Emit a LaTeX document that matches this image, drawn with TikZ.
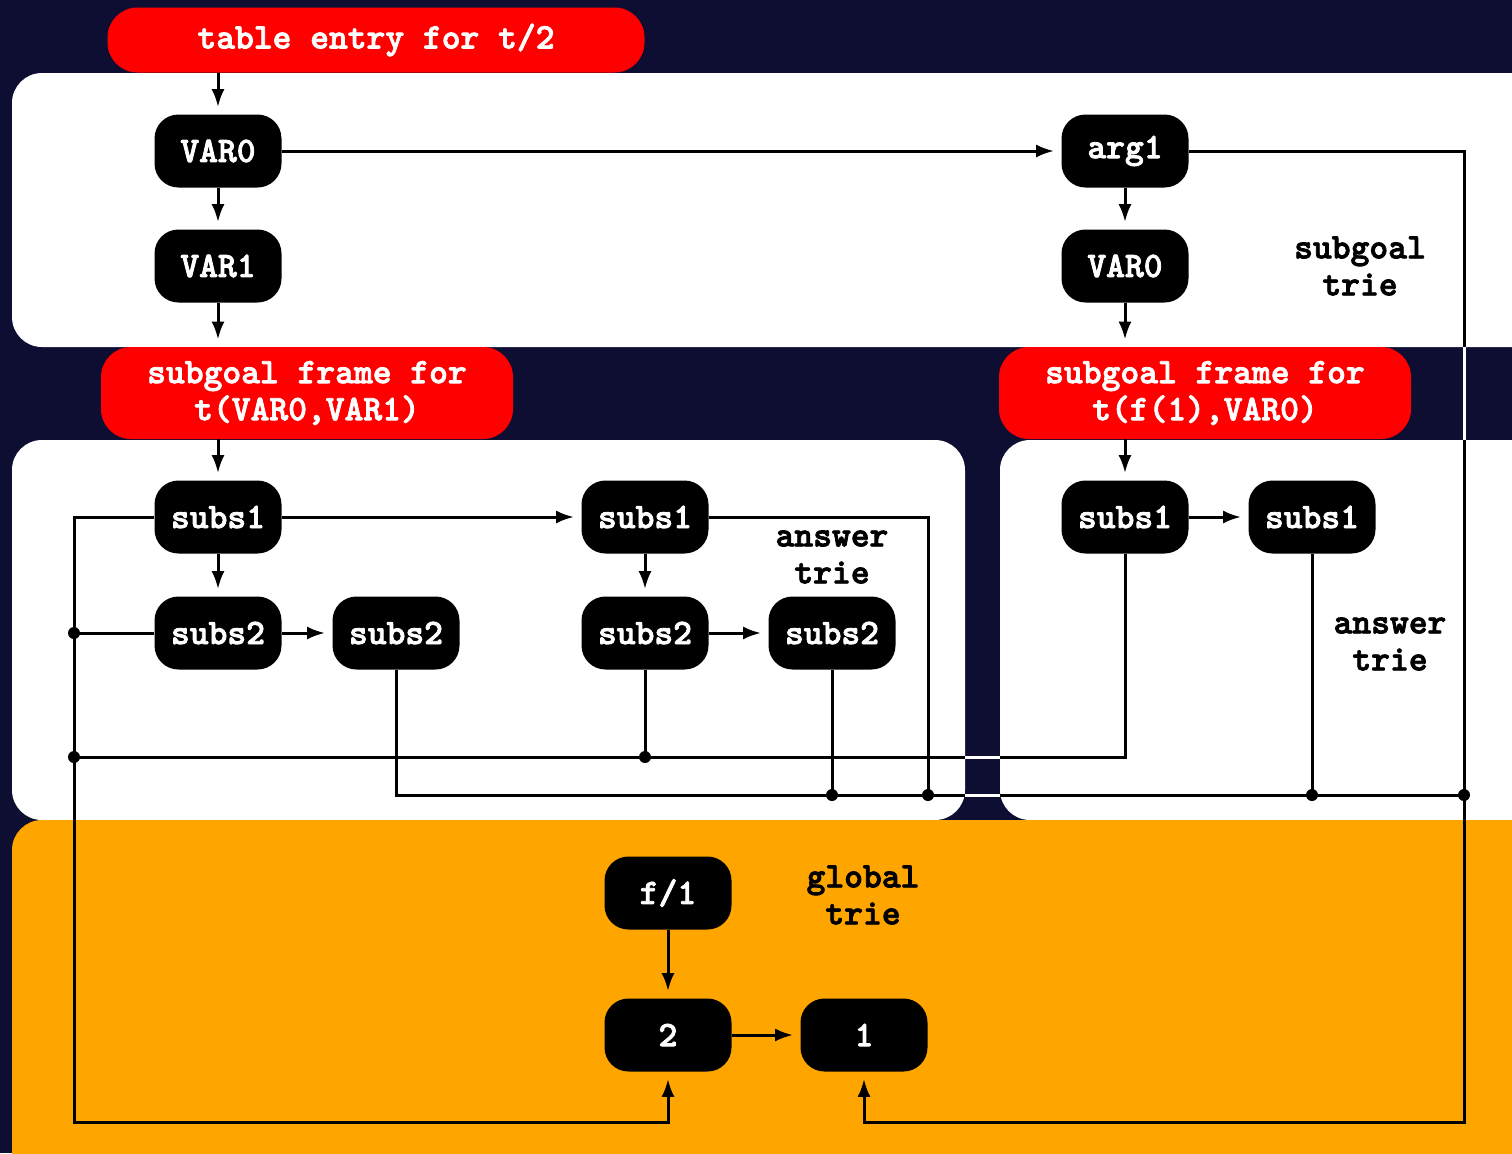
\documentclass[tikz,border=0pt]{standalone}
\usepackage{fontspec}
\newfontfamily\triefont{lmmonolt10-bold.otf}[RawFeature={embolden=2.2}]
\usepackage{tikz}
\usetikzlibrary{calc,positioning,arrows.meta}
\definecolor{Night}{HTML}{0E0E33}
\definecolor{Frame}{HTML}{FF0000}
\definecolor{Amber}{HTML}{FFA500}

\tikzset{
  trienode/.style={fill=black,text=white,rounded corners=12pt,minimum width=63.5pt,minimum height=36.5pt,inner sep=0pt,font=\triefont\fontsize{17.9}{18.5}\selectfont},
  framebox/.style={fill=Frame,text=white,rounded corners=15pt,inner sep=0pt,align=center,font=\triefont\fontsize{17.9}{18.5}\selectfont},
  trielabel/.style={text=black,align=center,inner sep=0pt,font=\triefont\fontsize{17.9}{18.5}\selectfont},
  wire/.style={draw=black,line width=1.5pt},
  link/.style={wire,-{Latex[length=9pt,width=6.5pt]},shorten >=3.5pt},
  joint/.style={fill=black,circle,inner sep=0pt,minimum size=6pt},
  bridge/.style={draw=white,line width=1.5pt}
}

\begin{document}
\begin{tikzpicture}[x=0.5pt,y=-0.5pt]
\clip (0,0) rectangle (1512,1153);
\fill[Night] (0,0) rectangle (1512,1153);
% panels
\fill[white,rounded corners=15pt] (12,73) rectangle (1560,347);
\fill[white,rounded corners=15pt] (12,440) rectangle (965,820);
\fill[white,rounded corners=15pt] (1000,440) rectangle (1560,820);
\fill[Amber,rounded corners=15pt] (12,820) rectangle (1560,1200);

% frames
\node[framebox,minimum width=268.5pt,minimum height=32.5pt] (entry) at (376,40) {table entry for t/2};
\node[framebox,minimum width=206pt,minimum height=46pt] (frameL) at (307,393) {subgoal frame for\\t(VAR0,VAR1)};
\node[framebox,minimum width=206pt,minimum height=46pt] (frameR) at (1205,393) {subgoal frame for\\t(f(1),VAR0)};

% subgoal trie
\node[trienode] (varA) at (218,151) {VAR0};
\node[trienode] (varB) at (218,266) {VAR1};
\node[trienode] (arg) at (1125,151) {arg1};
\node[trienode] (varC) at (1125,266) {VAR0};
\node[trielabel] (sglabel) at (1360,266) {subgoal\\trie};

% answer tries
\node[trienode] (subsA) at (218,517) {subs1};
\node[trienode] (subsB) at (218,633) {subs2};
\node[trienode] (subsC) at (396,633) {subs2};
\node[trienode] (subsD) at (645,517) {subs1};
\node[trienode] (subsE) at (645,633) {subs2};
\node[trienode] (subsF) at (832,633) {subs2};
\node[trielabel] (anslabelL) at (832,557) {answer\\trie};
\node[trienode] (subsG) at (1125,517) {subs1};
\node[trienode] (subsH) at (1312,517) {subs1};
\node[trielabel] (anslabelR) at (1390,644) {answer\\trie};

% global trie
\node[trienode] (fone) at (668,893) {f/1};
\node[trienode] (two) at (668,1035) {2};
\node[trienode] (one) at (864,1035) {1};
\node[trielabel] (glabel) at (863,895) {global\\trie};

\coordinate (busL) at (74,1122);
\coordinate (busR) at (1464,1122);
\coordinate (midbus) at (74,757);
\coordinate (lowbus) at (1464,795);
\coordinate (drop) at (928,795);

% arrows
\draw[link] (entry.south -| varA.north) -- (varA.north);
\draw[link] (varA) -- (varB);
\draw[link] (varA) -- (arg);
\draw[link] (arg) -- (varC);
\draw[link] (varB.south) -- (varB.south |- frameL.north);
\draw[link] (varC.south) -- (varC.south |- frameR.north);
\draw[link] (frameL.south -| subsA.north) -- (subsA.north);
\draw[link] (frameR.south -| subsG.north) -- (subsG.north);
\draw[link] (subsA) -- (subsB);
\draw[link] (subsA) -- (subsD);
\draw[link] (subsB) -- (subsC);
\draw[link] (subsD) -- (subsE);
\draw[link] (subsE) -- (subsF);
\draw[link] (subsG) -- (subsH);
\draw[link] (fone) -- (two);
\draw[link] (two) -- (one);

% links into the global trie
\draw[link] (subsA.west) -| (busL) -| (two.south);
\draw[wire] (subsB.west) -- (subsB.west -| busL);
\draw[wire] (subsE.south) |- (midbus);
\draw[wire] (subsG.south) |- (midbus);
\draw[wire] (subsC.south) |- (lowbus);
\draw[wire] (subsF.south) -- (subsF.south |- lowbus);
\draw[wire] (subsD.east) -| (drop);
\draw[wire] (subsH.south) -- (subsH.south |- lowbus);
\draw[link] (arg.east) -| (busR) -| (one.south);

% where wires cross the background
\draw[bridge] (965,757) -- (1000,757);
\draw[bridge] (965,795) -- (1000,795);
\draw[bridge] (1464,347) -- (1464,440);

% junctions
\node[joint] at (subsB.west -| busL) {};
\node[joint] at (midbus) {};
\node[joint] at (subsE.south |- midbus) {};
\node[joint] at (subsF.south |- lowbus) {};
\node[joint] at (drop) {};
\node[joint] at (subsH.south |- lowbus) {};
\node[joint] at (lowbus) {};
\end{tikzpicture}
\end{document}
